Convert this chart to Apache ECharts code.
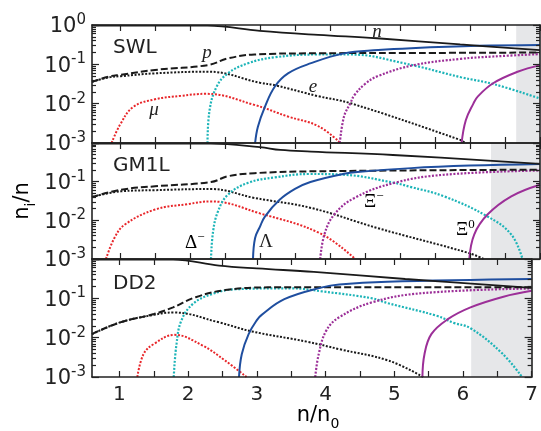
<!DOCTYPE html>
<html><head><meta charset="utf-8">
<script src="https://cdn.jsdelivr.net/npm/echarts@6/dist/echarts.min.js"></script>
<style>html,body{margin:0;padding:0;background:#fff}#c{width:541px;height:431px}</style>
</head><body><div id="c"></div>
<script>
// ---- tick values ----
const xTickValues = [1,1.5,2,2.5,3,3.5,4,4.5,5,5.5,6,6.5,7];
const xLabelValues = [1,2,3,4,5,6,7];
const yMajorValues = [0.001,0.01,0.1,1];
const yMinorValues = [0.002,0.003,0.004,0.005,0.006,0.007,0.008,0.009,
  0.02,0.03,0.04,0.05,0.06,0.07,0.08,0.09,0.2,0.3,0.4,0.5,0.6,0.7,0.8,0.9];
const panelNames = ['SWL','GM1L','DD2'];
const shadeStart = [6.66, 6.3, 6.12];

// ---- SWL ----
const swlN = [[0.6,0.97],[2.25,0.96],[3.0,0.71],[3.83,0.56],[4.67,0.46],[5.86,0.32],[7,0.23]];
const swlP = [[0.6,0.036],[0.85,0.049],[1.01,0.054],[1.5,0.072],[2.26,0.096],[2.54,0.141],[2.92,0.178],[3.83,0.191],[5.5,0.195],[7,0.2]];
const swlE = [[0.6,0.036],[0.85,0.047],[1.01,0.05],[1.5,0.059],[2.26,0.065],[3.0,0.034],[3.21,0.0295],[3.83,0.0155],[4.29,0.0103],[5.86,0.0012],[5.93,0.001]];
const swlMu = [[0.88,0.001],[1.0,0.0029],[1.19,0.0083],[1.5,0.0129],[1.87,0.0158],[2.23,0.0178],[2.92,0.0093],[3.4,0.0047],[3.83,0.0027],[4.15,0.001]];
const swlDm = [[2.25,0.001],[2.28,0.0069],[2.38,0.027],[2.54,0.059],[2.83,0.107],[3.21,0.151],[3.8,0.178],[4.3,0.178],[5.05,0.107],[5.87,0.047],[6.35,0.031],[7,0.0135]];
const swlLam = [[2.93,0.001],[2.97,0.0026],[3.07,0.0083],[3.21,0.027],[3.4,0.059],[3.73,0.107],[4.2,0.19],[4.69,0.23],[5.16,0.257],[6.11,0.295],[7,0.31]];
const swlXim = [[4.14,0.001],[4.2,0.0047],[4.29,0.0102],[4.35,0.0166],[4.5,0.0316],[4.68,0.05],[5.2,0.0955],[5.87,0.138],[6.33,0.158],[7,0.182]];
const swlXi0 = [[5.88,0.001],[5.94,0.0038],[6.05,0.0102],[6.11,0.0151],[6.33,0.033],[6.68,0.0646],[7,0.0955]];

// ---- GM1L ----
const gmN = [[0.6,0.97],[2.3,0.96],[3.0,0.78],[3.29,0.66],[3.73,0.6],[4.9,0.49],[7,0.29]];
const gmP = [[0.6,0.04],[1.01,0.0617],[1.5,0.0759],[2.3,0.0977],[2.54,0.138],[2.92,0.166],[3.83,0.186],[7,0.204]];
const gmE = [[0.6,0.04],[1.01,0.0562],[1.5,0.0603],[2.3,0.0646],[2.92,0.038],[3.73,0.0209],[4.68,0.0063],[5.97,0.00145],[6.2,0.001]];
const gmMu = [[0.8,0.001],[0.92,0.0035],[1.07,0.0078],[1.5,0.019],[1.97,0.0263],[2.3,0.0309],[3.0,0.0151],[3.86,0.0046],[4.36,0.001]];
const gmDm = [[2.3,0.001],[2.33,0.0052],[2.4,0.017],[2.54,0.0457],[2.83,0.0933],[3.21,0.129],[3.71,0.158],[4.2,0.151],[4.92,0.0933],[5.14,0.074],[5.63,0.0417],[6.25,0.0126],[6.59,0.0043],[6.75,0.001]];
const gmLam = [[2.9,0.001],[2.93,0.0035],[3.0,0.0069],[3.07,0.0125],[3.28,0.034],[3.5,0.065],[3.72,0.098],[4.2,0.16],[4.43,0.18],[5.16,0.224],[6.0,0.26],[7,0.288]];
const gmXim = [[3.86,0.001],[3.92,0.0043],[4.06,0.0141],[4.35,0.038],[4.92,0.0933],[5.63,0.151],[7,0.195]];
const gmXi0 = [[5.99,0.001],[6.06,0.0043],[6.25,0.0141],[6.59,0.0417],[7,0.0832]];

// ---- DD2 ----
const ddN = [[0.6,0.97],[1.78,0.96],[2.45,0.68],[3.0,0.575],[3.83,0.47],[5.16,0.31],[7,0.185]];
const ddP = [[0.6,0.0123],[1.01,0.0245],[1.5,0.0398],[1.78,0.0589],[2.11,0.107],[2.54,0.162],[3.16,0.19],[7,0.19]];
const ddE = [[0.6,0.0123],[1.01,0.0245],[1.5,0.038],[1.78,0.0437],[2.45,0.0245],[2.92,0.0145],[3.73,0.0079],[4.2,0.0051],[4.92,0.0026],[5.42,0.001]];
const ddMu = [[1.26,0.001],[1.35,0.0038],[1.5,0.0069],[1.8,0.0118],[2.21,0.0063],[2.54,0.0026],[2.85,0.001]];
const ddDm = [[1.79,0.001],[1.83,0.0069],[1.9,0.0269],[2.07,0.0724],[2.35,0.129],[2.69,0.17],[3.5,0.18],[3.95,0.15],[4.68,0.1],[4.9,0.0759],[5.63,0.0355],[5.86,0.024],[6.11,0.0174],[6.57,0.004],[6.86,0.001]];
const ddLam = [[2.74,0.001],[2.78,0.0038],[2.88,0.0123],[3.0,0.028],[3.07,0.038],[3.4,0.095],[3.95,0.19],[4.2,0.225],[4.9,0.263],[7,0.309]];
const ddXim = [[3.85,0.001],[3.9,0.0038],[4.01,0.0151],[4.2,0.0331],[4.68,0.0794],[5.4,0.135],[7,0.178]];
const ddXi0 = [[5.41,0.001],[5.44,0.0038],[5.54,0.0123],[5.78,0.0295],[6.11,0.0589],[6.59,0.11],[7,0.155]];

const panels = [
  {n:swlN,p:swlP,e:swlE,mu:swlMu,dm:swlDm,lam:swlLam,xim:swlXim,xi0:swlXi0},
  {n:gmN,p:gmP,e:gmE,mu:gmMu,dm:gmDm,lam:gmLam,xim:gmXim,xi0:gmXi0},
  {n:ddN,p:ddP,e:ddE,mu:ddMu,dm:ddDm,lam:ddLam,xim:ddXim,xi0:ddXi0}
];

const styles = {
  n:  {color:'#1a1a1a', width:1.8, type:'solid'},
  p:  {color:'#1a1a1a', width:2,   type:[7,3]},
  e:  {color:'#1a1a1a', width:2,   type:[2,1.6]},
  mu: {color:'#e8262a', width:2,   type:[2,1.6]},
  dm: {color:'#1db4b8', width:2.2, type:[2,1.6]},
  lam:{color:'#1f4e9f', width:2,   type:'solid'},
  xim:{color:'#9c2f98', width:2.2, type:[2,1.6]},
  xi0:{color:'#9c2f98', width:2,   type:'solid'}
};

const FONT = 'DejaVu Sans';
const tops = [25,143,259], heights = [118,116,118];
const grid = [], xAxis = [], yAxis = [], series = [];
const axLine = {show:true, lineStyle:{color:'#222', width:1.6}};
for (let i=0;i<3;i++){
  grid.push({left:92, top:tops[i], width:448, height:heights[i], show:false});
  xAxis.push({gridIndex:i, type:'value', min:0.6, max:7, position:'bottom', z:5,
    axisLine:axLine, splitLine:{show:false},
    axisTick:{show:true, inside:true, length:6, customValues:xTickValues, lineStyle:{color:'#222',width:1.2}},
    axisLabel:{show:i===2, customValues:xLabelValues, fontSize:20, fontFamily:FONT, color:'#222', margin:8}});
  xAxis.push({gridIndex:i, type:'value', min:0.6, max:7, position:'top', z:5,
    axisLine:axLine, splitLine:{show:false},
    axisTick:{show:true, inside:true, length:6, customValues:xTickValues, lineStyle:{color:'#222',width:1.2}},
    axisLabel:{show:false}});
  const idx = i;
  const mk = (pos, minor, labels) => ({gridIndex:i, type:'log', logBase:10, min:0.001, max:1, position:pos, z:5,
    axisLine: minor ? {show:false} : axLine, splitLine:{show:false},
    axisTick:{show:true, inside:true, length: minor?4:7, customValues: minor?yMinorValues:yMajorValues, lineStyle:{color:'#222',width:1.2}},
    axisLabel: labels ? {show:true, customValues:yMajorValues, margin:6,
      formatter: v => { if (idx>0 && v>0.5) return ''; const ex=Math.round(Math.log10(v)); return '{b|10}{s|'+ex+'}'; },
      rich:{b:{fontSize:21, fontFamily:FONT, color:'#222', verticalAlign:'bottom'},
            s:{fontSize:15, fontFamily:FONT, color:'#222', verticalAlign:'bottom', padding:[0,0,10,0]}}} : {show:false}});
  yAxis.push(mk('left', false, true));
  yAxis.push(mk('left', true, false));
  yAxis.push(mk('right', false, false));
  yAxis.push(mk('right', true, false));

  series.push({type:'line', xAxisIndex:2*i, yAxisIndex:4*i, data:[], z:1, silent:true,
    markArea:{silent:true, itemStyle:{color:'#e6e7e9'}, data:[[{xAxis:shadeStart[i]},{xAxis:7}]]}});
  const P = panels[i];
  for (const k of ['e','mu','dm','xim','p','xi0','lam','n']){
    series.push({type:'line', xAxisIndex:2*i, yAxisIndex:4*i, data:P[k], symbol:'none', z:3,
      smooth:0.4, clip:true, silent:true,
      lineStyle:{color:styles[k].color, width:styles[k].width, type:styles[k].type}});
  }
}

const serif = 'Liberation Serif';
const italic = (t,x,y) => ({type:'text', x, y, z:10, style:{text:t, fontFamily:serif, fontStyle:'italic', fontSize:19, fill:'#222', align:'center', verticalAlign:'middle'}});
const supText = (base, sup, x, y) => ({type:'text', x, y, z:10, style:{text:'{a|'+base+'}{s|'+sup+'}', align:'left', verticalAlign:'middle',
  rich:{a:{fontFamily:serif, fontSize:19, color:'#222', verticalAlign:'bottom'},
        s:{fontFamily:serif, fontSize:13, color:'#222', verticalAlign:'bottom', padding:[0,0,8,0]}}}});
const graphic = [
  {type:'text', x:113, y:48, z:10, style:{text:panelNames[0], fontFamily:FONT, fontSize:20, fill:'#222', verticalAlign:'middle'}},
  {type:'text', x:113, y:166, z:10, style:{text:panelNames[1], fontFamily:FONT, fontSize:20, fill:'#222', verticalAlign:'middle'}},
  {type:'text', x:113, y:284, z:10, style:{text:panelNames[2], fontFamily:FONT, fontSize:20, fill:'#222', verticalAlign:'middle'}},
  italic('n',377,32), italic('p',207,53), italic('e',313,87), italic('μ',154,110),
  supText('Δ','−',185,242),
  {type:'text', x:266, y:242, z:10, style:{text:'Λ', fontFamily:serif, fontSize:19, fill:'#222', align:'center', verticalAlign:'middle'}},
  supText('Ξ','−',364,201),
  supText('Ξ','0',456,229),
  {type:'text', x:25, y:201, rotation:Math.PI/2, z:10, style:{text:'{a|n}{s|i}{a|/n}', align:'center', verticalAlign:'middle',
    rich:{a:{fontFamily:FONT, fontSize:21, color:'#222', verticalAlign:'bottom', padding:[0,0,5,0]},
          s:{fontFamily:FONT, fontSize:14, color:'#222', verticalAlign:'bottom'}}}},
  {type:'text', x:318, y:418, z:10, style:{text:'{a|n/n}{s|0}', align:'center', verticalAlign:'middle',
    rich:{a:{fontFamily:FONT, fontSize:21, color:'#222', verticalAlign:'bottom', padding:[0,0,5,0]},
          s:{fontFamily:FONT, fontSize:14, color:'#222', verticalAlign:'bottom'}}}}
];

const chart = echarts.init(document.getElementById('c'), null, {renderer:'canvas'});
chart.setOption({animation:false, backgroundColor:'#fff', grid, xAxis, yAxis, series, graphic});
</script></body></html>
